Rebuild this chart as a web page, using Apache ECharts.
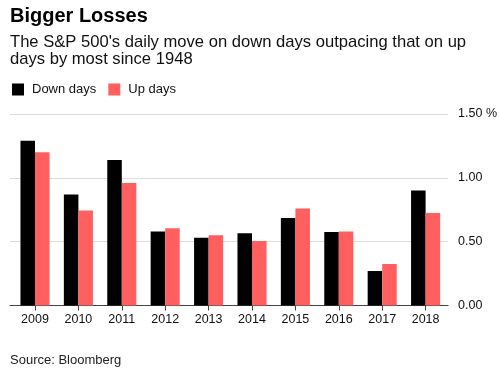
<!DOCTYPE html>
<html>
<head>
<meta charset="utf-8">
<script src="https://cdn.jsdelivr.net/npm/echarts@6/dist/echarts.min.js"></script>
<style>
html,body{margin:0;padding:0;background:#fff;}
#chart{width:500px;height:380px;}
</style>
</head>
<body>
<div id="chart"></div>
<script>
const years = ['2009','2010','2011','2012','2013','2014','2015','2016','2017','2018'];
const downDays = [1.29, 0.87, 1.14, 0.58, 0.53, 0.565, 0.685, 0.575, 0.27, 0.90];
const upDays = [1.20, 0.745, 0.96, 0.605, 0.55, 0.505, 0.76, 0.58, 0.325, 0.725];
const yTicks = [0, 0.5, 1.0, 1.5];
const titleText = 'Bigger Losses';
const subtitleText = "The S&P 500's daily move on down days outpacing that on up\ndays by most since 1948";
const sourceText = 'Source: Bloomberg';

const FONT = '"Liberation Sans", Arial, sans-serif';
const chart = echarts.init(document.getElementById('chart'), null, {renderer: 'canvas'});
const plotTop = 114, plotHeight = 191.5;
chart.setOption({
  animation: false,
  backgroundColor: '#fff',
  textStyle: {fontFamily: FONT},
  title: [
    {text: titleText, left: 10, top: 6, padding: 0, textStyle: {fontFamily: FONT, fontSize: 20, fontWeight: 'bold', color: '#000'}},
    {text: subtitleText, left: 10, top: 34, padding: 0, textStyle: {fontFamily: FONT, fontSize: 16.6, fontWeight: 'normal', color: '#111', lineHeight: 17}},
    {text: sourceText, left: 10, top: 354, padding: 0, textStyle: {fontFamily: FONT, fontSize: 13, fontWeight: 'normal', color: '#222'}}
  ],
  legend: {
    left: 12, top: 83, padding: 0, itemWidth: 12, itemHeight: 12, icon: 'rect', itemGap: 12,
    textStyle: {fontFamily: FONT, fontSize: 13, color: '#111', padding: [0, 0, 0, 3]},
    data: ['Down days', 'Up days']
  },
  grid: [
    {left: 13.3, width: 434, top: plotTop, height: plotHeight},
    {left: 10, width: 442, top: plotTop, height: plotHeight}
  ],
  xAxis: [
    {type: 'category', gridIndex: 0, data: years,
     axisLine: {show: false},
     axisTick: {show: true, alignWithLabel: true, length: 5, lineStyle: {color: '#444'}},
     axisLabel: {fontFamily: FONT, fontSize: 12.5, color: '#111', margin: 8}},
    {type: 'value', gridIndex: 1, min: 0, max: 1, show: true,
     axisLine: {show: true, onZero: false, lineStyle: {color: '#444', width: 1}},
     axisTick: {show: false}, axisLabel: {show: false}, splitLine: {show: false}}
  ],
  yAxis: [
    {type: 'value', gridIndex: 0, min: 0, max: 1.5, interval: 0.5, show: false},
    {type: 'value', gridIndex: 1, min: 0, max: 1.5, interval: 0.5, position: 'right',
     axisLine: {show: false}, axisTick: {show: false},
     splitLine: {lineStyle: {color: '#dcdcdc', width: 1}},
     axisLabel: {fontFamily: FONT, fontSize: 12.5, color: '#111', margin: 10,
       formatter: function (v) { return v === yTicks[yTicks.length - 1] ? v.toFixed(2) + ' %' : v.toFixed(2); }}}
  ],
  series: [
    {name: 'Down days', type: 'bar', xAxisIndex: 0, yAxisIndex: 0, data: downDays,
     itemStyle: {color: '#000'}, barGap: '0%', barCategoryGap: '33%', z: 3},
    {name: 'Up days', type: 'bar', xAxisIndex: 0, yAxisIndex: 0, data: upDays,
     itemStyle: {color: '#ff5f5f'}, barGap: '0%', barCategoryGap: '33%', z: 3}
  ]
});
</script>
</body>
</html>
